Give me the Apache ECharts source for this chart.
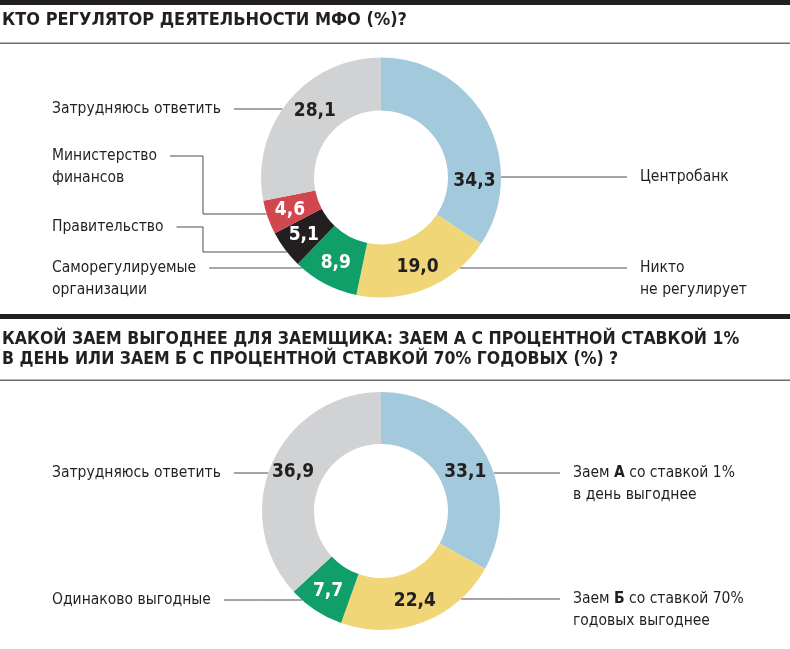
<!DOCTYPE html>
<html><head><meta charset="utf-8">
<script src="https://cdn.jsdelivr.net/npm/echarts@6/dist/echarts.min.js"></script>
<style>html,body{margin:0;padding:0;background:#fff}#c{width:790px;height:649px}</style>
</head><body><div id="c"></div>
<script>
// ---- data ----
const title1 = 'КТО РЕГУЛЯТОР ДЕЯТЕЛЬНОСТИ МФО (%)?';
const title2 = 'КАКОЙ ЗАЕМ ВЫГОДНЕЕ ДЛЯ ЗАЕМЩИКА: ЗАЕМ А С ПРОЦЕНТНОЙ СТАВКОЙ 1%\nВ ДЕНЬ ИЛИ ЗАЕМ Б С ПРОЦЕНТНОЙ СТАВКОЙ 70% ГОДОВЫХ (%) ?';
const cats1 = ['Центробанк', 'Никто\nне регулирует', 'Саморегулируемые\nорганизации', 'Правительство', 'Министерство\nфинансов', 'Затрудняюсь ответить'];
const vals1 = [34.3, 19.0, 8.9, 5.1, 4.6, 28.1];
const cats2 = ['Заем А со ставкой 1%\nв день выгоднее', 'Заем Б со ставкой 70%\nгодовых выгоднее', 'Одинаково выгодные', 'Затрудняюсь ответить'];
const vals2 = [33.1, 22.4, 7.7, 36.9];

// ---- styles / layout ----
const FONT = '"Liberation Sans Narrow", "DejaVu Sans Condensed", "Roboto Condensed", sans-serif';
const INK = '#231f20';
const colors1 = ['#a3c9dc', '#f0d677', '#109e69', '#231f20', '#d2464e', '#d1d2d4'];
const valueColors1 = [INK, INK, '#fff', '#fff', '#fff', INK];
const colors2 = ['#a3c9dc', '#f0d677', '#109e69', '#d1d2d4'];
const valueColors2 = [INK, INK, '#fff', INK];
const pie1 = {cx: 381, cy: 177.5, r0: 67, r: 120, leftX: 52, rightX: 640};
const pie2 = {cx: 381, cy: 511, r0: 67, r: 119, leftX: 52, rightX: 573};
const nameLayout1 = [
  {side: 1, ty: 177, ly: 177},
  {side: 1, ty: 268, ly: 268},
  {side: -1, ty: 268, ly: 268},
  {side: -1, ty: 227, ly: 252, ex: 203},
  {side: -1, ty: 156, ly: 214, ex: 203},
  {side: -1, ty: 109, ly: 109}
];
const nameLayout2 = [
  {side: 1, ty: 473, ly: 473},
  {side: 1, ty: 599, ly: 599},
  {side: -1, ty: 600, ly: 600},
  {side: -1, ty: 473, ly: 473}
];
const valueAngle1 = [92, null, null, null, null, 315];
const valueAngle2 = [65, null, null, null];
const LH = 22, GAP = 13, NAME_SIZE = 15.5;

function fmtName(n) { return n.replace(/Заем ([АБ])/, 'Заем {b|$1}'); }

function seriesFor(vals, cats, colors, valueColors, pie, nameLayout, valueAngle) {
  const common = {type: 'pie', center: [pie.cx, pie.cy], radius: [pie.r0, pie.r], startAngle: 90, clockwise: true,
    silent: true, avoidLabelOverlap: false, emphasis: {disabled: true}, animation: false};
  const valueSeries = Object.assign({}, common, {
    data: vals.map((v, i) => ({name: cats[i], value: v, itemStyle: {color: colors[i]}, label: {color: valueColors[i]}})),
    itemStyle: {borderWidth: 0},
    label: {show: true, position: 'inside', formatter: p => p.value.toFixed(1).replace('.', ','),
      fontFamily: FONT, fontWeight: 'bold', fontSize: 19, textBorderWidth: 0},
    labelLine: {show: false},
    labelLayout: p => {
      const a = valueAngle[p.dataIndex];
      if (a == null) return {};
      const rad = a * Math.PI / 180, rm = (pie.r0 + pie.r) / 2;
      return {x: pie.cx + rm * Math.sin(rad), y: pie.cy - rm * Math.cos(rad), align: 'center', verticalAlign: 'middle'};
    }
  });
  const nameSeries = Object.assign({}, common, {
    z: 1,
    data: vals.map((v, i) => ({name: cats[i], value: v})),
    itemStyle: {color: 'rgba(0,0,0,0)', borderWidth: 0},
    label: {show: true, position: 'outside', formatter: p => fmtName(p.name), color: INK,
      fontFamily: FONT, fontSize: NAME_SIZE, lineHeight: LH,
      rich: {b: {fontFamily: FONT, fontSize: NAME_SIZE, fontWeight: 'bold', color: INK, lineHeight: LH}}},
    labelLine: {show: true, length: 10, length2: 10, smooth: false, lineStyle: {color: '#4d4d4f', width: 1}},
    labelLayout: p => {
      const c = nameLayout[p.dataIndex];
      const w = p.labelRect.width;
      const edge = pie.cx + c.side * Math.sqrt(pie.r * pie.r - (c.ly - pie.cy) * (c.ly - pie.cy));
      let x, pts;
      if (c.side > 0) {
        x = pie.rightX;
        const end = x - GAP;
        pts = [[edge, c.ly], [(edge + end) / 2, c.ly], [end, c.ly]];
      } else {
        x = pie.leftX;
        const start = x + w + GAP;
        pts = c.ex != null
          ? [[start, c.ty], [c.ex, c.ty], [c.ex, c.ly], [edge, c.ly]]
          : [[start, c.ly], [(start + edge) / 2, c.ly], [edge, c.ly]];
      }
      return {x: x, y: c.ty - LH / 2, align: 'left', verticalAlign: 'top', labelLinePoints: pts};
    }
  });
  return [nameSeries, valueSeries];
}

const chart = echarts.init(document.getElementById('c'), null, {renderer: 'canvas'});
chart.setOption({
  backgroundColor: '#fff',
  animation: false,
  title: [
    {text: title1, left: 2, top: 8, padding: 0,
      textStyle: {fontFamily: FONT, fontWeight: 'bold', fontSize: 18, lineHeight: 24, color: INK}},
    {text: title2, left: 2, top: 329, padding: 0,
      textStyle: {fontFamily: FONT, fontWeight: 'bold', fontSize: 17.5, lineHeight: 20, color: INK}}
  ],
  graphic: [
    {type: 'rect', shape: {x: 0, y: 0, width: 790, height: 5}, style: {fill: INK}, silent: true},
    {type: 'rect', shape: {x: 0, y: 42.5, width: 790, height: 1.5}, style: {fill: '#6d6e71'}, silent: true},
    {type: 'rect', shape: {x: 0, y: 314, width: 790, height: 5}, style: {fill: INK}, silent: true},
    {type: 'rect', shape: {x: 0, y: 379.5, width: 790, height: 1.5}, style: {fill: '#6d6e71'}, silent: true}
  ],
  series: [].concat(
    seriesFor(vals1, cats1, colors1, valueColors1, pie1, nameLayout1, valueAngle1),
    seriesFor(vals2, cats2, colors2, valueColors2, pie2, nameLayout2, valueAngle2)
  )
});
</script>
</body></html>
